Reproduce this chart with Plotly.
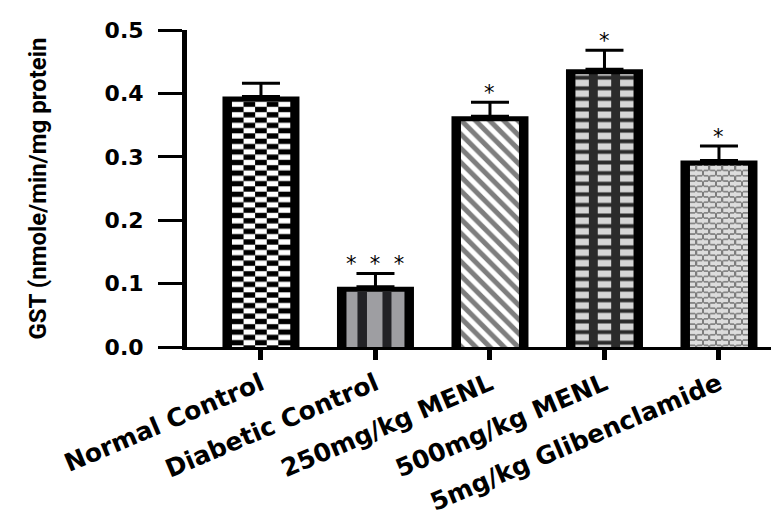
import plotly.graph_objects as go

# ---------------- data ----------------
categories = ["Normal Control", "Diabetic Control", "250mg/kg MENL",
              "500mg/kg MENL", "5mg/kg Glibenclamide"]
means = [0.395, 0.095, 0.364, 0.438, 0.294]
sems = [0.021, 0.021, 0.022, 0.030, 0.023]
stars = ["", "*\u00a0\u00a0*\u00a0\u00a0*", "*", "*", "*"]
y_ticks = [0.0, 0.1, 0.2, 0.3, 0.4, 0.5]
y_title = "GST (nmole/min/mg protein"

# ---------------- geometry (px -> axis units) ----------------
W, H = 779, 519
M_L, M_R, M_T, M_B = 179, 0, 22, 180
plot_w = W - M_L - M_R
plot_h = H - M_T - M_B
X_RANGE = [-0.646, 4.594]
Y_RANGE = [0, 0.5]
ux = (X_RANGE[1] - X_RANGE[0]) / plot_w
uy = (Y_RANGE[1] - Y_RANGE[0]) / plot_h

OUTER_W = 77 * ux
INNER_W = 58 * ux
TOP_BORDER = 5 * uy
inner_h = [m - TOP_BORDER for m in means]

fig = go.Figure()

# outer black frame of every bar + error bars
fig.add_trace(go.Bar(
    x=categories, y=means, width=OUTER_W,
    marker=dict(color="#000000", line=dict(width=0)),
    error_y=dict(type="data", symmetric=False, array=sems,
                 arrayminus=[0] * len(sems), color="#000000",
                 thickness=3, width=19),
    hoverinfo="skip", showlegend=False))


def sub_bar(i, left_px, width_px, color="rgba(0,0,0,0)", pattern=None):
    mk = dict(color=color, line=dict(width=0))
    if pattern is not None:
        mk["pattern"] = pattern
    fig.add_trace(go.Bar(
        x=[categories[i]], y=[inner_h[i]], width=width_px * ux,
        offset=-INNER_W / 2 + left_px * ux,
        marker=mk, hoverinfo="skip", showlegend=False))


# 1) Normal Control: checkerboard (alternating inverted stripe columns)
ncol = 5
cw = 58 / ncol
for k in range(ncol):
    fg, bg = ("#000000", "#ffffff") if k % 2 == 0 else ("#ffffff", "#000000")
    sub_bar(0, k * cw, cw + 0.3, color=bg,
            pattern=dict(shape="-", fgcolor=fg, bgcolor=bg, size=10.6,
                         solidity=0.5, fillmode="replace"))

# 2) Diabetic Control: grey with dark vertical stripes
sub_bar(1, 0, 58, color="#9e9ea2")
sub_bar(1, 11, 9.5, color="#222226")
sub_bar(1, 36, 9, color="#222226")

# 3) 250 mg/kg: diagonal stripes
sub_bar(2, 0, 58, color="#ffffff",
        pattern=dict(shape="\\", fgcolor="#7e7e7e", bgcolor="#ffffff",
                     size=10, solidity=0.5, fillmode="replace"))

# 4) 500 mg/kg: dark with light rectangles in three columns
sub_bar(3, 0, 58, color="#2b2b2b")
for left in (0, 22.3, 44.6):
    sub_bar(3, left, 13.4, color="#d6d6d6",
            pattern=dict(shape="-", fgcolor="#2b2b2b", bgcolor="#d6d6d6",
                         size=10.6, solidity=0.37, fillmode="replace"))

# 5) Glibenclamide: light bricks with grey mortar (staggered joints)
BRICK_L, MORTAR = "#dddddd", "#7c7c7c"
sub_bar(4, 0, 58, color=BRICK_L,
        pattern=dict(shape="-", fgcolor=MORTAR, bgcolor=BRICK_L,
                     size=5.3, solidity=0.3, fillmode="replace"))
for j in range(1, 9):
    fg, bg = (MORTAR, BRICK_L) if j % 2 == 0 else (BRICK_L, MORTAR)
    sub_bar(4, 6.5 * j - 0.8, 1.6, color=bg,
            pattern=dict(shape="-", fgcolor=fg, bgcolor=bg, size=10.6,
                         solidity=0.5, fillmode="replace"))

# significance stars
for c, m, s, t in zip(categories, means, sems, stars):
    if t:
        fig.add_annotation(x=c, y=m + s, text=t, showarrow=False,
                           xanchor="center", yanchor="bottom", yshift=-5,
                           font=dict(family="DejaVu Sans", size=21, color="#000000"))

fig.update_layout(
    width=W, height=H,
    margin=dict(l=M_L, r=M_R, t=M_T, b=M_B, autoexpand=False),
    barmode="overlay",
    plot_bgcolor="#ffffff", paper_bgcolor="#ffffff",
    showlegend=False,
    xaxis=dict(
        type="category", range=X_RANGE, showgrid=False, zeroline=False,
        showline=True, linecolor="#000000", linewidth=2.5,
        ticks="outside", ticklen=10, tickwidth=5, tickcolor="#000000",
        tickangle=-23, automargin=False,
        tickfont=dict(family="DejaVu Sans", size=25, color="#000000", weight="bold"),
    ),
    yaxis=dict(
        range=Y_RANGE, tickvals=y_ticks, tickformat=".1f",
        showgrid=False, zeroline=False,
        showline=True, linecolor="#000000", linewidth=5,
        ticks="outside", ticklen=24, tickwidth=3, tickcolor="#000000",
        ticklabelstandoff=10,
        automargin=False,
        tickfont=dict(family="DejaVu Sans", size=22, color="#000000", weight="bold"),
        title=dict(text=y_title, standoff=53,
                   font=dict(family="Roboto", size=24, color="#000000", weight="bold")),
    ),
)

fig.write_html("out.html")
